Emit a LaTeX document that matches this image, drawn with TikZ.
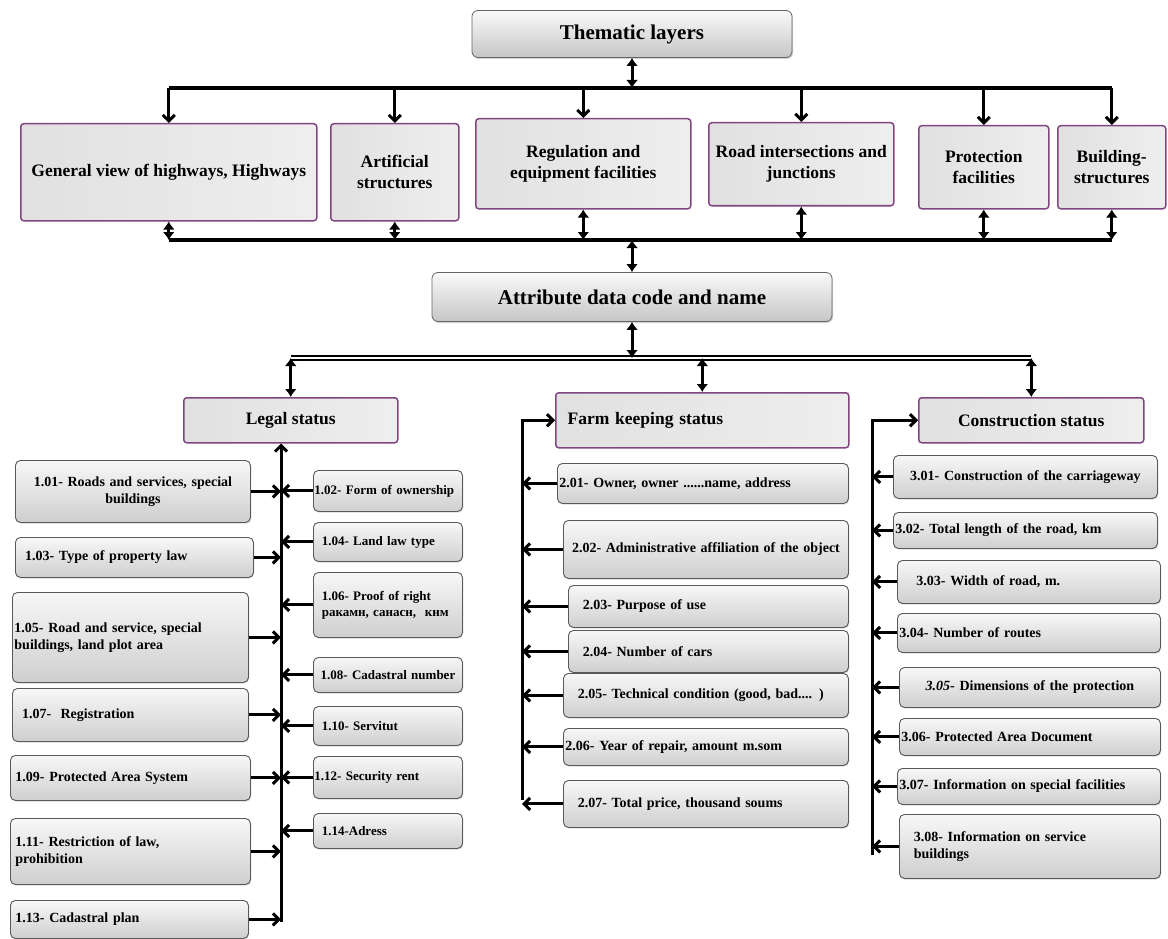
\documentclass[tikz,border=0pt]{standalone}
\usepackage{fontspec}
\setmainfont{Liberation Serif}
\usetikzlibrary{arrows.meta,shadows}

\tikzset{
	headbox/.style={draw=black!60, line width=0.8pt, rounded corners=6pt, top color=gray!4, bottom color=gray!45,
		font=\fontsize{21}{24}\selectfont\bfseries, drop shadow={shadow xshift=1pt, shadow yshift=-1.5pt, opacity=0.35}},
	layerbox/.style={draw=violet!45!gray, line width=1.5pt, rounded corners=3pt, left color=gray!24, right color=gray!13,
		font=\fontsize{17.5}{21}\selectfont\bfseries, align=center, anchor=north west, inner xsep=2pt},
	itembox/.style={draw=black!65, line width=0.9pt, rounded corners=5pt, top color=gray!6, bottom color=gray!38,
		font=\fontsize{14}{17}\selectfont\bfseries, anchor=north west, inner xsep=5pt, align=left,
		drop shadow={shadow xshift=0.8pt, shadow yshift=-1.2pt, opacity=0.3}},
	smallitem/.style={itembox, font=\fontsize{13}{16}\selectfont\bfseries},
	bus/.style={line width=4.5pt},
	ladder/.style={line width=1.6pt, double, double distance=2.6pt},
	feed/.style={line width=3pt, -{Straight Barb[length=6pt,width=12pt]}},
	twoway/.style={line width=3pt, {Latex[length=8pt,width=12pt]}-{Latex[length=8pt,width=12pt]}}
}

\begin{document}
\begin{tikzpicture}[x=1pt,y=-1pt]
	\useasboundingbox [fill=white] (0,0) rectangle (1168,939);
	% Kopf
	\node[headbox, minimum width=320pt, minimum height=47pt] (thematic) at (632,34) {Thematic layers};
	\coordinate (bus1) at (632,88);
	\coordinate (bus2) at (632,240);
	% Themenebenen
	\node[layerbox, minimum width=296pt, minimum height=97pt] (gv) at (20,123) {General view of highways, Highways};
	\node[layerbox, minimum width=128pt, minimum height=97pt] (art) at (330,123) {Artificial\\structures};
	\node[layerbox, minimum width=215pt, minimum height=90pt] (reg) at (475,118) {Regulation and\\equipment facilities};
	\node[layerbox, minimum width=185pt, minimum height=83pt] (ri) at (708,122) {Road intersections and\\junctions};
	\node[layerbox, minimum width=130pt, minimum height=83pt] (pf) at (918,125) {Protection\\facilities};
	\node[layerbox, minimum width=108pt, minimum height=83pt] (bs) at (1057,125) {Building-\\structures};
	\draw[bus] (gv.north |- bus1) -- (bs.north |- bus1);
	\draw[bus] (gv.south |- bus2) -- (bs.south |- bus2);
	\draw[twoway] (thematic.south) -- (thematic.south |- bus1);
	\draw[feed] (gv.north |- bus1) -- (gv.north);
	\draw[feed] (art.north |- bus1) -- (art.north);
	\draw[feed] (reg.north |- bus1) -- (reg.north);
	\draw[feed] (ri.north |- bus1) -- (ri.north);
	\draw[feed] (pf.north |- bus1) -- (pf.north);
	\draw[feed] (bs.north |- bus1) -- (bs.north);
	\draw[twoway] (gv.south) -- (gv.south |- bus2);
	\draw[twoway] (art.south) -- (art.south |- bus2);
	\draw[twoway] (reg.south) -- (reg.south |- bus2);
	\draw[twoway] (ri.south) -- (ri.south |- bus2);
	\draw[twoway] (pf.south) -- (pf.south |- bus2);
	\draw[twoway] (bs.south) -- (bs.south |- bus2);
	% Attribute
	\node[headbox, minimum width=400pt, minimum height=49pt] (attr) at (632,297) {Attribute data code and name};
	\draw[twoway] (attr.north |- bus2) -- (attr.north);
	\coordinate (bus3) at (632,358);
	\node[layerbox, minimum width=214pt, minimum height=45pt] (legal) at (183,397) {Legal status};
	\node[layerbox, minimum width=293pt, minimum height=55pt, align=left, text width=281pt] (farm) at (555,392) {~Farm keeping status};
	\node[layerbox, minimum width=225pt, minimum height=45pt] (cons) at (918,397) {Construction status};
	\draw[ladder] (legal.north |- bus3) -- (cons.north |- bus3);
	\draw[twoway] (attr.south) -- (attr.south |- bus3);
	\draw[twoway] (legal.north |- bus3) -- (legal.north);
	\draw[twoway] (farm.north |- bus3) -- (farm.north);
	\draw[twoway] (cons.north |- bus3) -- (cons.north);
	% Sammelleitungen
	\coordinate (legbot) at (281,922);
	\coordinate (farmbot) at (522,800);
	\coordinate (consbot) at (872,855);
	\draw[feed] (legbot) -- (legbot |- legal.south);
	\draw[feed] (farmbot) |- (farm.west);
	\draw[feed] (consbot) |- (cons.west);
	% Rechtsstatus, links
	\node[itembox, minimum width=235pt, minimum height=62pt, text width=225pt, align=center] (l101) at (15,460) {1.01- Roads and services, special\\buildings};
	\node[itembox, minimum width=238pt, minimum height=40pt, text width=228pt] (l103) at (15,537) {~1.03- Type of property law};
	\node[itembox, minimum width=236pt, minimum height=90pt, text width=232pt, inner xsep=2pt] (l105) at (12,592) {1.05- Road and service, special\\buildings, land plot area\\[30pt]};
	\node[itembox, minimum width=236pt, minimum height=53pt, text width=226pt] (l107) at (12,688) {~1.07-~~Registration\\[10pt]};
	\node[itembox, minimum width=240pt, minimum height=45pt, text width=230pt] (l109) at (10,755) {1.09- Protected Area System};
	\node[itembox, minimum width=240pt, minimum height=66pt, text width=230pt] (l111) at (10,818) {1.11- Restriction of law,\\prohibition};
	\node[itembox, minimum width=238pt, minimum height=38pt, text width=228pt] (l113) at (10,900) {1.13- Cadastral plan};
	% Rechtsstatus, rechts
	\node[smallitem, minimum width=149pt, minimum height=41pt, text width=147pt, inner xsep=1pt] (l102) at (313,470) {1.02- Form of ownership};
	\node[smallitem, minimum width=149pt, minimum height=39pt, text width=141pt, inner xsep=4pt] (l104) at (313,522) {~1.04- Land law type};
	\node[smallitem, minimum width=149pt, minimum height=65pt, text width=141pt, inner xsep=4pt] (l106) at (313,572) {~1.06- Proof of right\\~ракамн, санасн,~~кнм};
	\node[smallitem, minimum width=149pt, minimum height=35pt, text width=145pt, inner xsep=2pt, align=center] (l108) at (313,657) {1.08- Cadastral number};
	\node[smallitem, minimum width=149pt, minimum height=39pt, text width=141pt, inner xsep=4pt] (l110) at (313,706) {~1.10- Servitut};
	\node[smallitem, minimum width=149pt, minimum height=42pt, text width=147pt, inner xsep=1pt] (l112) at (313,756) {1.12- Security rent};
	\node[smallitem, minimum width=149pt, minimum height=35pt, text width=141pt, inner xsep=4pt] (l114) at (313,813) {~1.14-Adress};
	% Bewirtschaftung
	\node[itembox, minimum width=291pt, minimum height=40pt, text width=287pt, inner xsep=2pt] (f201) at (557,463) {2.01- Owner, owner ......name, address};
	\node[itembox, minimum width=285pt, minimum height=58pt, text width=283pt, inner xsep=1pt, align=center] (f202) at (563,520) {2.02- Administrative affiliation of the object};
	\node[itembox, minimum width=280pt, minimum height=42pt, text width=270pt] (f203) at (568,585) {~~2.03- Purpose of use};
	\node[itembox, minimum width=280pt, minimum height=42pt, text width=270pt] (f204) at (568,630) {~~2.04- Number of cars};
	\node[itembox, minimum width=285pt, minimum height=44pt, text width=275pt] (f205) at (563,673) {~~2.05- Technical condition (good, bad.... )};
	\node[itembox, minimum width=285pt, minimum height=37pt, text width=281pt, inner xsep=2pt] (f206) at (563,728) {2.06- Year of repair, amount m.som};
	\node[itembox, minimum width=285pt, minimum height=47pt, text width=275pt] (f207) at (563,780) {~~2.07- Total price, thousand soums};
	% Bau
	\node[itembox, minimum width=264pt, minimum height=43pt, text width=254pt, align=center] (c301) at (893,455) {3.01- Construction of the carriageway};
	\node[itembox, minimum width=264pt, minimum height=36pt, text width=260pt, inner xsep=2pt] (c302) at (893,512) {3.02- Total length of the road, km};
	\node[itembox, minimum width=263pt, minimum height=43pt, text width=253pt] (c303) at (897,560) {~~~3.03- Width of road, m.};
	\node[itembox, minimum width=263pt, minimum height=39pt, text width=259pt, inner xsep=2pt] (c304) at (897,613) {3.04- Number of routes};
	\node[itembox, minimum width=261pt, minimum height=40pt, text width=251pt, align=center] (c305) at (899,667) {\textit{3.05}- Dimensions of the protection};
	\node[itembox, minimum width=261pt, minimum height=37pt, text width=257pt, inner xsep=2pt] (c306) at (899,718) {3.06- Protected Area Document};
	\node[itembox, minimum width=263pt, minimum height=36pt, text width=259pt, inner xsep=2pt] (c307) at (897,768) {3.07- Information on special facilities};
	\node[itembox, minimum width=261pt, minimum height=64pt, text width=251pt] (c308) at (899,814) {~~3.08- Information on service\\~~buildings};
	% Pfeile zu den Leitungen
	\draw[feed] (l101.east) -- (l101.east -| legbot);
	\draw[feed] (l103.east) -- (l103.east -| legbot);
	\draw[feed] (l105.east) -- (l105.east -| legbot);
	\draw[feed] (l107.east) -- (l107.east -| legbot);
	\draw[feed] (l109.east) -- (l109.east -| legbot);
	\draw[feed] (l111.east) -- (l111.east -| legbot);
	\draw[feed] (l113.east) -- (l113.east -| legbot);
	\draw[feed] (l102.west) -- (l102.west -| legbot);
	\draw[feed] (l104.west) -- (l104.west -| legbot);
	\draw[feed] (l106.west) -- (l106.west -| legbot);
	\draw[feed] (l108.west) -- (l108.west -| legbot);
	\draw[feed] (l110.west) -- (l110.west -| legbot);
	\draw[feed] (l112.west) -- (l112.west -| legbot);
	\draw[feed] (l114.west) -- (l114.west -| legbot);
	\draw[feed] (f201.west) -- (f201.west -| farmbot);
	\draw[feed] (f202.west) -- (f202.west -| farmbot);
	\draw[feed] (f203.west) -- (f203.west -| farmbot);
	\draw[feed] (f204.west) -- (f204.west -| farmbot);
	\draw[feed] (f205.west) -- (f205.west -| farmbot);
	\draw[feed] (f206.west) -- (f206.west -| farmbot);
	\draw[feed] (f207.west) -- (f207.west -| farmbot);
	\draw[feed] (c301.west) -- (c301.west -| consbot);
	\draw[feed] (c302.west) -- (c302.west -| consbot);
	\draw[feed] (c303.west) -- (c303.west -| consbot);
	\draw[feed] (c304.west) -- (c304.west -| consbot);
	\draw[feed] (c305.west) -- (c305.west -| consbot);
	\draw[feed] (c306.west) -- (c306.west -| consbot);
	\draw[feed] (c307.west) -- (c307.west -| consbot);
	\draw[feed] (c308.west) -- (c308.west -| consbot);
\end{tikzpicture}
\end{document}
